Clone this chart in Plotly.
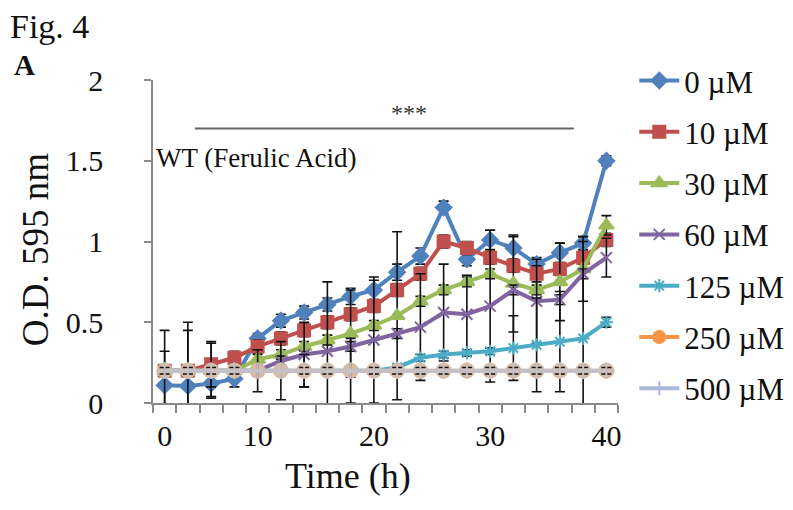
import plotly.graph_objects as go

# ---------------- data ----------------
time_h = [0, 2.5, 5, 7.5, 10, 12, 14, 16, 18, 20, 22, 24, 26, 28, 30, 32, 34, 36, 38, 40]
tick_labels = [0, 10, 20, 30, 40]

series_names = ["0 µM", "10 µM", "30 µM", "60 µM", "125 µM", "250 µM", "500 µM"]

od_0 = [0.11, 0.105, 0.12, 0.15, 0.40, 0.51, 0.56, 0.61, 0.66, 0.70, 0.81, 0.91, 1.21, 0.89, 1.01, 0.96, 0.86, 0.93, 0.99, 1.50]
od_10 = [0.20, 0.20, 0.24, 0.28, 0.35, 0.40, 0.45, 0.50, 0.55, 0.60, 0.70, 0.80, 1.00, 0.96, 0.90, 0.85, 0.80, 0.83, 0.90, 1.01]
od_30 = [0.20, 0.20, 0.20, 0.20, 0.27, 0.30, 0.35, 0.39, 0.43, 0.48, 0.54, 0.63, 0.70, 0.75, 0.80, 0.74, 0.70, 0.75, 0.83, 1.10]
od_60 = [0.20, 0.20, 0.20, 0.20, 0.20, 0.26, 0.30, 0.32, 0.35, 0.39, 0.43, 0.47, 0.56, 0.55, 0.60, 0.70, 0.63, 0.64, 0.80, 0.90]
od_125 = [0.20, 0.20, 0.20, 0.20, 0.20, 0.20, 0.20, 0.20, 0.20, 0.20, 0.22, 0.28, 0.30, 0.31, 0.32, 0.34, 0.36, 0.38, 0.40, 0.50]
od_250 = [0.20] * 20
od_500 = [0.20] * 20

err_0 = [0.21, 0.345, 0.08, 0.05, 0.03, 0.04, 0.04, 0.04, 0.05, 0.06, 0.05, 0.05, 0.04, 0.04, 0.06, 0.07, 0.04, 0.06, 0.04, 0.03]
err_10 = [0.25, 0.30, 0.14, 0.04, 0.04, 0.04, 0.04, 0.04, 0.04, 0.04, 0.04, 0.04, 0.04, 0.04, 0.04, 0.04, 0.05, 0.04, 0.04, 0.04]
err_30 = [0.03, 0.03, 0.03, 0.03, 0.03, 0.03, 0.03, 0.03, 0.27, 0.03, 0.52, 0.03, 0.03, 0.03, 0.03, 0.30, 0.03, 0.24, 0.20, 0.06]
err_60 = [0.03, 0.03, 0.03, 0.03, 0.03, 0.03, 0.20, 0.43, 0.03, 0.39, 0.03, 0.33, 0.30, 0.24, 0.47, 0.03, 0.26, 0.03, 0.03, 0.12]
err_125 = [0.02, 0.02, 0.02, 0.02, 0.02, 0.02, 0.10, 0.02, 0.02, 0.02, 0.02, 0.02, 0.02, 0.02, 0.02, 0.20, 0.29, 0.31, 0.60, 0.03]
err_250 = [0.02, 0.02, 0.17, 0.02, 0.02, 0.02, 0.02, 0.02, 0.02, 0.02, 0.02, 0.02, 0.02, 0.02, 0.02, 0.02, 0.02, 0.02, 0.02, 0.02]
err_500 = [0.02, 0.02, 0.02, 0.02, 0.13, 0.18, 0.02, 0.02, 0.20, 0.02, 0.02, 0.02, 0.02, 0.02, 0.02, 0.02, 0.02, 0.02, 0.02, 0.02]

sig_label = "***"
sig_y = 1.70
sig_label_y = 1.795
sig_from_h, sig_to_h, sig_label_h = 2.5, 38, 22
panel_label = "WT (Ferulic Acid)"
panel_label_y = 1.52

# ---------------- styles ----------------
FONT = "Liberation Serif, Times New Roman, serif"
legend_colors = ["#4F81BD", "#C0504D", "#9BBB59", "#8064A2", "#4BACC6", "#F79646", "#AAB9DA"]
plot_colors = ["#4F81BD", "#C0504D", "#9BBB59", "#8064A2", "#4BACC6", "#D6BBA6", "#C4C0C6"]
symbols = ["diamond", "square", "triangle-up", "x-thin-open", "asterisk-open", "circle", "cross-thin-open"]
msizes = [12, 12, 13, 11, 11, 14, 12]

values = [od_0, od_10, od_30, od_60, od_125, od_250, od_500]
errors = [err_0, err_10, err_30, err_60, err_125, err_250, err_500]

x_idx = list(range(len(time_h)))

fig = go.Figure()
for i, (name, v, e) in enumerate(zip(series_names, values, errors)):
    proxy = i >= 5
    fig.add_trace(go.Scatter(
        x=x_idx, y=v, name=name, mode="lines+markers",
        line=dict(color=plot_colors[i], width=4),
        marker=dict(symbol=symbols[i], size=msizes[i], color=plot_colors[i],
                    line=dict(color=plot_colors[i], width=2)),
        error_y=dict(type="data", array=e, visible=True, color="#111111", thickness=1.6, width=5),
        showlegend=not proxy, legendgroup=name, legendrank=i + 1,
    ))
# legend entries for the last two series (their plotted colours blend on the chart)
for i in (5, 6):
    fig.add_trace(go.Scatter(
        x=[None], y=[None], name=series_names[i], mode="lines+markers",
        line=dict(color=legend_colors[i], width=4),
        marker=dict(symbol=symbols[i], size=msizes[i] - 2, color=legend_colors[i],
                    line=dict(color=legend_colors[i], width=2)),
        legendgroup=series_names[i], legendrank=i + 1, showlegend=True,
    ))

tick_idx = [time_h.index(t) for t in tick_labels]
sig_x0 = time_h.index(sig_from_h) + 0.3
sig_x1 = time_h.index(sig_to_h) - 0.4
sig_xl = time_h.index(sig_label_h) + 0.5

fig.add_shape(type="line", xref="x", yref="y", x0=sig_x0, x1=sig_x1, y0=sig_y, y1=sig_y,
              line=dict(color="#666666", width=2))
fig.add_annotation(x=sig_xl, y=sig_label_y, xref="x", yref="y", text=sig_label,
                   showarrow=False, yanchor="middle",
                   font=dict(family=FONT, size=24, color="#333333"))
fig.add_annotation(x=-0.45, y=panel_label_y, xref="x", yref="y", text=panel_label, showarrow=False,
                   xanchor="left", yanchor="middle", font=dict(family=FONT, size=27, color="#111111"))

# outside texts
fig.add_annotation(x=-0.311, y=1.165, xref="paper", yref="paper", text="Fig. 4", showarrow=False,
                   xanchor="left", yanchor="middle", font=dict(family=FONT, size=34, color="#111111"))
fig.add_annotation(x=-0.304, y=1.045, xref="paper", yref="paper", text="<b>A</b>", showarrow=False,
                   xanchor="left", yanchor="middle", font=dict(family=FONT, size=29, color="#111111"))
fig.add_annotation(x=-0.251, y=0.474, xref="paper", yref="paper", text="O.D. 595 nm", showarrow=False,
                   textangle=-90, xanchor="center", yanchor="middle",
                   font=dict(family=FONT, size=37, color="#111111"))
fig.add_annotation(x=0.4186, y=-0.225, xref="paper", yref="paper", text="Time (h)", showarrow=False,
                   xanchor="center", yanchor="middle", font=dict(family=FONT, size=36, color="#111111"))

fig.update_layout(
    width=793, height=510, autosize=False,
    margin=dict(l=145, r=175, t=72, b=115),
    paper_bgcolor="white", plot_bgcolor="white",
    font=dict(family=FONT, size=30, color="#111111"),
    legend=dict(x=1.035, y=1.081, xanchor="left", yanchor="top", traceorder="grouped",
                tracegroupgap=8, itemwidth=40, maxheight=440,
                font=dict(family=FONT, size=31, color="#111111"),
                bgcolor="rgba(0,0,0,0)"),
    xaxis=dict(range=[-0.5, len(time_h) - 0.5], showgrid=False, zeroline=False,
               showline=True, linecolor="#8a8a8a", linewidth=1.5,
               tickmode="array", tickvals=tick_idx, ticktext=[str(t) for t in tick_labels],
               ticks="", ticklabelstandoff=5,
               tickfont=dict(family=FONT, size=30, color="#111111"),
               minor=dict(ticks="outside", ticklen=8, tickcolor="#8a8a8a", tickwidth=1.5,
                          tickmode="linear", tick0=-0.5, dtick=1, showgrid=False)),
    yaxis=dict(range=[0, 2], showgrid=False, zeroline=False,
               showline=True, linecolor="#8a8a8a", linewidth=1.5,
               tickvals=[0, 0.5, 1, 1.5, 2], ticktext=["0", "0.5", "1", "1.5", "2"],
               ticks="outside", ticklen=7, tickcolor="#8a8a8a", tickwidth=1.5,
               ticklabelposition="outside", ticklabelstandoff=35,
               tickfont=dict(family=FONT, size=30, color="#111111")),
)

fig.write_html("out.html")
